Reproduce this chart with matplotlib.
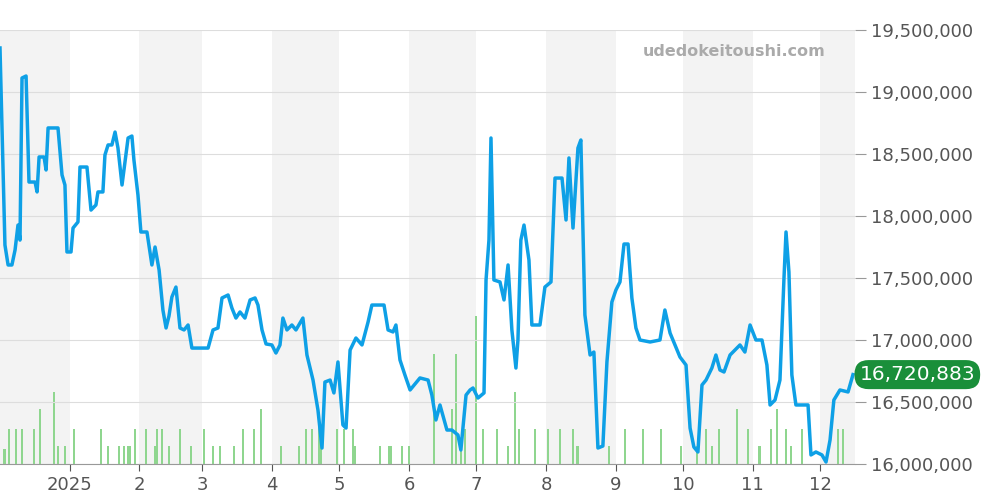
import matplotlib
matplotlib.use("Agg")
import matplotlib.pyplot as plt
import numpy as np
from matplotlib.ticker import FuncFormatter

# days since 2024-12-01
price_days = [0,2.2,3.6,5.3,6.7,8.0,8.9,9.8,11.6,12.9,15.6,16.5,17.4,19.6,20.5,21.4,25.8,27.6,28.9,29.8,31.6,32.5,34.7,35.6,38.7,40.5,42.7,43.6,45.8,46.7,48.1,49.8,51.2,52.5,54.3,55.6,57.0,58.7,59.6,61.4,62.7,65.4,67.6,69.0,70.8,72.5,73.9,75.2,76.5,78.3,80.1,81.9,83.7,85.4,92.6,94.8,97.0,98.8,101.5,103.2,105.0,106.8,109.0,111.3,113.5,114.8,116.6,118.4,121.0,122.8,124.6,125.9,127.7,129.9,131.7,134.8,136.6,139.3,141.5,143.3,144.6,146.9,148.6,150.4,152.6,154.0,155.8,158.4,161.1,163.8,165.5,170.9,172.7,174.9,176.2,178.0,180.2,182.5,184.7,186.9,190.5,192.2,194.0,195.8,198.9,201.1,203.8,205.1,207.4,209.2,210.5,212.7,215.4,216.3,217.6,218.5,219.8,222.5,224.3,226.1,227.8,229.6,230.5,231.8,233.2,235.4,236.7,240.3,242.5,245.2,247.0,250.1,251.9,253.2,255.0,257.2,258.5,260.3,262.6,264.3,266.1,268.3,270.1,272.3,274.1,275.9,277.7,279.5,281.2,283.0,284.8,289.3,293.7,295.9,298.2,300.4,302.6,305.3,307.1,308.8,310.6,312.4,314.2,316.8,318.6,320.4,322.2,324.9,327.1,329.3,331.5,333.8,336.4,339.1,341.3,342.7,344.9,347.1,348.9,349.8,351.1,352.4,354.2,359.6,360.9,363.1,365.8,367.6,369.4,371.1,373.8,377.4,379.6]
price_k = [19355,17766,17605,17605,17726,17927,17806,19113,19129,18274,18274,18194,18476,18476,18371,18710,18710,18331,18250,17710,17710,17903,17952,18395,18395,18048,18089,18194,18194,18492,18573,18573,18677,18548,18250,18435,18629,18645,18452,18169,17871,17871,17605,17750,17565,17242,17097,17194,17347,17427,17097,17081,17121,16935,16935,17081,17097,17339,17363,17258,17177,17226,17177,17323,17339,17282,17081,16968,16960,16895,16960,17177,17081,17121,17081,17177,16879,16677,16435,16129,16661,16677,16573,16823,16315,16290,16919,17016,16960,17145,17282,17282,17081,17065,17121,16839,16718,16597,16645,16694,16677,16556,16355,16476,16274,16274,16234,16113,16556,16597,16613,16532,16573,17484,17806,18629,17484,17468,17323,17605,17081,16774,17000,17806,17927,17645,17121,17121,17427,17468,18306,18306,17968,18468,17903,18548,18613,17202,16879,16903,16129,16145,16823,17306,17403,17468,17774,17774,17339,17097,17000,16984,17000,17242,17056,16960,16863,16798,16290,16137,16097,16637,16677,16774,16879,16758,16742,16879,16919,16960,16903,17121,17000,17000,16798,16476,16516,16677,17500,17871,17548,16718,16476,16476,16073,16097,16073,16016,16194,16516,16597,16581,16720.883]

vol_days = [2,4,7,10,15,18,24,26,29,33,45,48,53,55,57,58,60,65,69,70,72,75,80,85,91,95,98,104,108,113,116,125,133,136,139,142,143,150,153,157,158,169,173,174,179,182,193,201,203,205,207,212,215,221,226,229,231,238,244,249,255,257,271,278,286,294,303,310,314,317,320,328,333,338,343,346,350,352,357,373,375]
vol = [15,35,35,35,35,55,72,18,18,35,35,18,18,18,18,18,35,35,18,35,35,18,35,18,35,18,18,18,35,35,55,18,18,35,35,52,18,35,35,35,18,18,18,18,18,18,110,55,110,18,35,148,35,35,18,72,35,35,35,35,35,18,18,35,35,35,18,18,35,18,35,55,35,18,35,55,35,18,35,35,35]

month_days = [31,62,90,121,151,182,212,243,274,304,335,365]
month_labels = ["2025","2","3","4","5","6","7","8","9","10","11","12"]
last_value = 16720883

fig = plt.figure(figsize=(10,5), dpi=100)
ax2 = fig.add_axes([0,0.072,0.855,0.868])
xmax = 380.5
for s,e in [(0,31),(62,90),(121,151),(182,212),(243,274),(304,335),(365,xmax)]:
    ax2.axvspan(s,e,color='#f3f3f3',zorder=0,lw=0)
ax2.bar(vol_days, vol, width=0.9, color='#8fd68f', zorder=1)
ax2.set_ylim(0,434)
ax2.set_xlim(0,xmax)
ax2.axis('off')

ax = fig.add_axes([0,0.072,0.855,0.868])
ax.patch.set_visible(False)
ax.set_xlim(0,xmax)
ax.set_ylim(16000000,19500000)
ax.yaxis.tick_right()
ax.set_yticks(np.arange(16000000,19500001,500000))
ax.yaxis.set_major_formatter(FuncFormatter(lambda v,p: f"{int(v):,}"))
ax.grid(axis='y',color='#dddddd',lw=0.8)
ax.set_axisbelow(True)
ax.set_xticks(month_days)
ax.set_xticklabels(month_labels)
ax.tick_params(axis='both',colors='#555555',labelsize=13,length=5)
ax.tick_params(axis='y',length=8,color='#999999')
for s in ['top','left','right']:
    ax.spines[s].set_visible(False)
ax.spines['bottom'].set_color('#999999')
ax.plot(price_days, np.array(price_k)*1000, color='#0ea0e6', lw=2.5, zorder=3)

ax.text(0.965,0.95,"udedokeitoushi.com",transform=ax.transAxes,ha='right',va='center',
        fontsize=11.5,fontweight='bold',color='#aaaaaa')
ax.text(xmax+2, last_value, f"{last_value:,}", ha='left', va='center', fontsize=14.5,
        color='white', zorder=10, clip_on=False,
        bbox=dict(boxstyle='round,pad=0.25,rounding_size=0.7', fc='#1a8f3a', ec='none'))
fig.savefig("out.png")
